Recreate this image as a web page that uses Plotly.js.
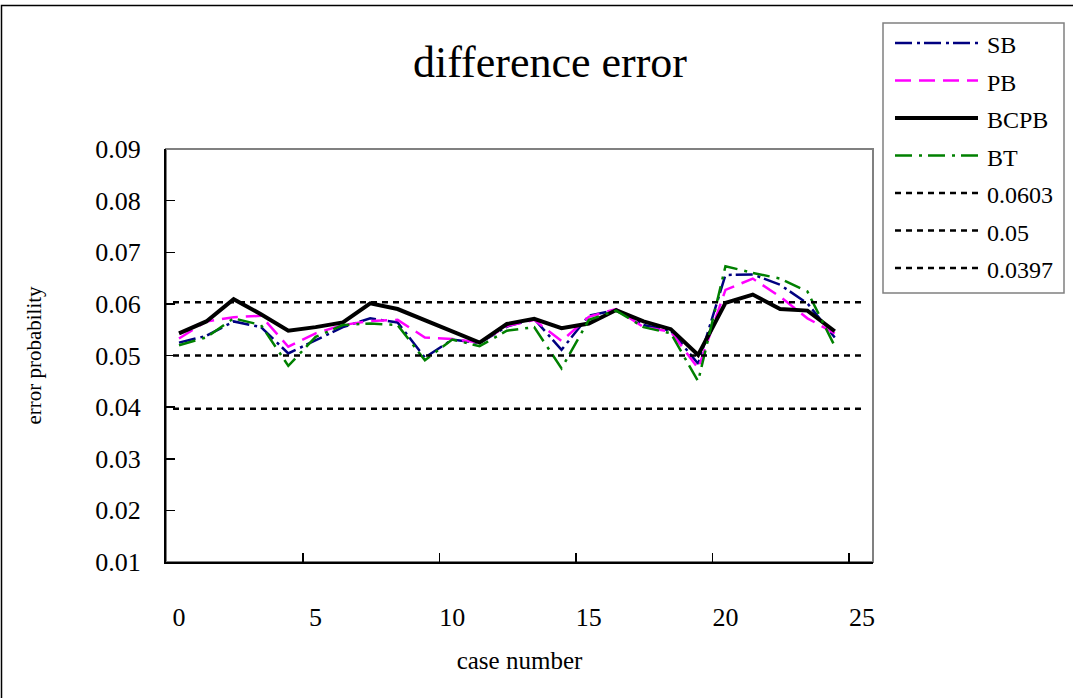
<!DOCTYPE html>
<html><head><meta charset="utf-8">
<script src="https://cdn.plot.ly/plotly-3.0.1.min.js"></script>
<style>html,body{margin:0;padding:0;background:#fff}#chart{width:1073px;height:698px}</style>
</head><body><div id="chart"></div>
<script>
// ---------------- data ----------------
const caseNumbers = [0,1,2,3,4,5,6,7,8,9,10,11,12,13,14,15,16,17,18,19,20,21,22,23,24];
const SB   = [0.0525,0.0538,0.0566,0.0555,0.0504,0.0530,0.0555,0.0572,0.0564,0.0496,0.0531,0.0524,0.0556,0.0571,0.0511,0.0577,0.0588,0.0559,0.0548,0.0484,0.0656,0.0657,0.0637,0.0601,0.0535];
const PB   = [0.0533,0.0566,0.0574,0.0577,0.0517,0.0543,0.0559,0.0567,0.0569,0.0535,0.0532,0.0525,0.0557,0.0569,0.0528,0.0575,0.0590,0.0555,0.0546,0.0475,0.0627,0.0649,0.0614,0.0572,0.0543];
const BCPB = [0.0543,0.0566,0.0609,0.0580,0.0548,0.0555,0.0564,0.0601,0.0590,0.0569,0.0547,0.0525,0.0561,0.0571,0.0553,0.0562,0.0588,0.0566,0.0551,0.0501,0.0602,0.0618,0.0590,0.0587,0.0547];
const BT   = [0.0520,0.0535,0.0572,0.0559,0.0480,0.0536,0.0559,0.0562,0.0559,0.0491,0.0531,0.0518,0.0548,0.0555,0.0475,0.0569,0.0587,0.0555,0.0543,0.0450,0.0673,0.0660,0.0649,0.0624,0.0518];
const seriesNames = ['SB','PB','BCPB','BT'];
const refValues = [0.0603, 0.05, 0.0397];
const refLabels = ['0.0603', '0.05', '0.0397'];
const xTickValues = [0,5,10,15,20,25];
const yTickValues = [0.01,0.02,0.03,0.04,0.05,0.06,0.07,0.08,0.09];
const titleText = 'difference error';
const xTitleText = 'case number';
const yTitleText = 'error probability';

// ---------------- styles ----------------
const FONT = 'Liberation Serif';
const seriesData = [SB, PB, BCPB, BT];
const seriesStyle = [
  {color:'#000080', width:2.5, dash:'17px,5px,3px,4px'},
  {color:'#FF00FF', width:2.5, dash:'16px,8px'},
  {color:'#000000', width:4,   dash:'solid'},
  {color:'#008000', width:2.5, dash:'17px,7px,3px,6px'}
];
const refStyle = {color:'#000000', width:2.5, dash:'6px,5px'};

const W = 1073, H = 698;
const PL = 166, PR = 873, PT = 149, PBm = 562;
const pw = PR - PL, ph = PBm - PT;
const px = v => (v - PL) / pw;      // pixel x -> paper
const py = v => (PBm - v) / ph;     // pixel y -> paper

const traces = seriesData.map((ys, i) => ({
  type:'scatter', mode:'lines', name: seriesNames[i],
  x: caseNumbers, y: ys,
  line: Object.assign({}, seriesStyle[i]),
  xaxis:'x', yaxis:'y', hoverinfo:'skip'
}));
// empty trace carrying the offset tick-mark axis
traces.push({type:'scatter', mode:'lines', x:[], y:[], xaxis:'x2', yaxis:'y', showlegend:false, hoverinfo:'skip'});

const shapes = [];
// outer chart border
shapes.push({type:'rect', xref:'paper', yref:'paper', x0:px(1.5), x1:px(1090), y0:py(712), y1:py(5.5),
  line:{color:'#000', width:1.5}, fillcolor:'rgba(0,0,0,0)', layer:'below'});
// plot area frame (gray)
shapes.push({type:'rect', xref:'paper', yref:'paper', x0:0, x1:1, y0:0, y1:1,
  line:{color:'#808080', width:2}, fillcolor:'rgba(0,0,0,0)', layer:'below'});
// reference dotted lines
refValues.forEach(v => {
  shapes.push({type:'line', xref:'paper', yref:'y', x0:px(173), x1:px(864), y0:v, y1:v,
    line:{color:refStyle.color, width:refStyle.width, dash:refStyle.dash}, layer:'above'});
});

// manual legend (Excel style)
const annotations = [];
shapes.push({type:'rect', xref:'paper', yref:'paper', x0:px(883), x1:px(1064), y0:py(293), y1:py(23),
  line:{color:'#808080', width:1.5}, fillcolor:'#ffffff'});
const legendNames = seriesNames.concat(refLabels);
const legendStyles = seriesStyle.concat(refLabels.map(() => refStyle));
legendNames.forEach((nm, i) => {
  const yy = 43 + i * 37.5;
  const st = legendStyles[i];
  shapes.push({type:'line', xref:'paper', yref:'paper', x0:px(895), x1:px(978), y0:py(yy), y1:py(yy),
    line:{color:st.color, width:st.width, dash:st.dash}});
  annotations.push({xref:'paper', yref:'paper', x:px(985), y:py(yy+2), text:nm, showarrow:false,
    xanchor:'left', yanchor:'middle', font:{family:FONT, size:24, color:'#000'}});
});

const layout = {
  width:W, height:H,
  margin:{l:PL, r:W-PR, t:PT, b:H-PBm, pad:0},
  paper_bgcolor:'#ffffff', plot_bgcolor:'#ffffff',
  showlegend:false,
  title:{text:titleText, xref:'container', yref:'container', x:550/W, y:1-62/H, xanchor:'center', yanchor:'middle',
    font:{family:FONT, size:44, color:'#000'}},
  xaxis:{range:[-0.476, 25.40], tickvals:xTickValues, ticktext:xTickValues.map(String), ticks:'',
    showgrid:false, zeroline:false, showline:true, linecolor:'#000', linewidth:2,
    tickfont:{family:FONT, size:26, color:'#000'}, ticklabelstandoff:31,
    title:{text:xTitleText, font:{family:FONT, size:25, color:'#000'}, standoff:20}},
  xaxis2:{overlaying:'x', anchor:'y', side:'bottom', range:[-0.476, 25.40], tick0:-0.47, dtick:5,
    ticks:'inside', ticklen:9, tickwidth:1.5, tickcolor:'#000', showticklabels:false,
    showgrid:false, zeroline:false, showline:false},
  yaxis:{range:[0.01, 0.09], tickvals:yTickValues, tickformat:'.2f', ticks:'inside', ticklen:9, tickwidth:1.5, tickcolor:'#000',
    showgrid:false, zeroline:false, showline:true, linecolor:'#000', linewidth:2,
    tickfont:{family:FONT, size:26, color:'#000'}, ticklabelstandoff:18,
    title:{text:yTitleText, font:{family:FONT, size:21, color:'#000'}, standoff:48}},
  shapes:shapes, annotations:annotations
};

Plotly.newPlot('chart', traces, layout, {displayModeBar:false, staticPlot:true});
</script>
</body></html>
